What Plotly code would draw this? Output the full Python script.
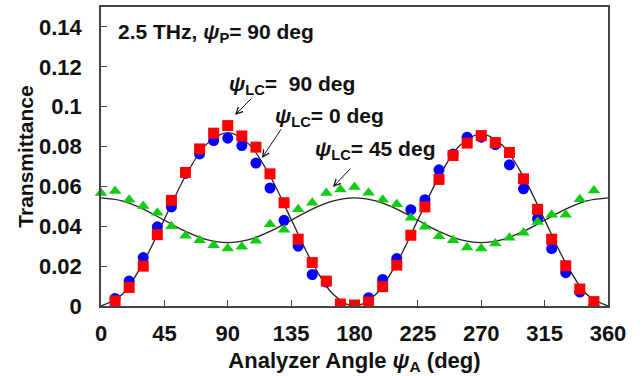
import plotly.graph_objects as go

# Analyzer angles (deg)
angles = [10, 20, 30, 40, 50, 60, 70, 80, 90, 100, 110, 120, 130, 140, 150, 160, 170, 180,
          190, 200, 210, 220, 230, 240, 250, 260, 270, 280, 290, 300, 310, 320, 330, 340, 350]

# psi_LC = 0 deg (blue circles)
t_lc0 = [0.0038, 0.0125, 0.0243, 0.0397, 0.0497, 0.0665, 0.0763, 0.0830, 0.0842, 0.0805,
         0.0717, 0.0592, 0.0430, 0.0300, 0.0158, 0.0120, 0.0000, 0.0000,
         0.0042, 0.0133, 0.0238, 0.0483, 0.0533, 0.0683, 0.0763, 0.0847, 0.0847, 0.0810,
         0.0708, 0.0588, 0.0438, 0.0288, 0.0167, 0.0070, 0.0000]

# psi_LC = 90 deg (red squares)
t_lc90 = [0.0025, 0.0093, 0.0200, 0.0358, 0.0530, 0.0670, 0.0788, 0.0867, 0.0905, 0.0853,
          0.0797, 0.0663, 0.0518, 0.0335, 0.0218, 0.0125, 0.0010, 0.0005,
          0.0020, 0.0097, 0.0205, 0.0355, 0.0497, 0.0635, 0.0755, 0.0817, 0.0855, 0.0820,
          0.0770, 0.0638, 0.0485, 0.0335, 0.0202, 0.0085, 0.0022]

# psi_LC = 45 deg (green triangles)
angles45 = [0] + angles
t_lc45 = [0.0567, 0.0577, 0.0533, 0.0502, 0.0468, 0.0400, 0.0352, 0.0330, 0.0305, 0.0288, 0.0297,
          0.0327, 0.0410, 0.0383, 0.0485, 0.0518, 0.0567, 0.0585, 0.0597,
          0.0568, 0.0533, 0.0510, 0.0443, 0.0397, 0.0350, 0.0330, 0.0293, 0.0288, 0.0313,
          0.0343, 0.0368, 0.0422, 0.0458, 0.0458, 0.0535, 0.0580]

# Fit curves (every 15 deg)
fit_angles = [0, 15, 30, 45, 60, 75, 90, 105, 120, 135, 150, 165, 180,
              195, 210, 225, 240, 255, 270, 285, 300, 315, 330, 345, 360]
fit_a = [0.0, 0.0058, 0.0218, 0.0435, 0.0652, 0.0812, 0.0870, 0.0812, 0.0652, 0.0435, 0.0218, 0.0058, 0.0,
         0.0058, 0.0216, 0.0432, 0.0648, 0.0806, 0.0864, 0.0806, 0.0648, 0.0432, 0.0216, 0.0058, 0.0]
fit_b = [0.0542, 0.0527, 0.0486, 0.0430, 0.0374, 0.0333, 0.0318, 0.0333, 0.0374, 0.0430, 0.0486, 0.0527, 0.0542,
         0.0527, 0.0486, 0.0430, 0.0374, 0.0333, 0.0318, 0.0333, 0.0374, 0.0430, 0.0486, 0.0527, 0.0542]

x_ticks = [0, 45, 90, 135, 180, 225, 270, 315, 360]
y_ticks = [0, 0.02, 0.04, 0.06, 0.08, 0.1, 0.12, 0.14]
y_tick_text = ["0", "0.02", "0.04", "0.06", "0.08", "0.1", "0.12", "0.14"]

FONT = "Arial, Liberation Sans, sans-serif"
FS = 21
TFS = 22

fig = go.Figure()
fig.add_trace(go.Scatter(x=fit_angles, y=fit_a, mode="lines", line=dict(color="#222222", width=1.3, shape="spline"),
                         showlegend=False, hoverinfo="skip"))
fig.add_trace(go.Scatter(x=fit_angles, y=fit_b, mode="lines", line=dict(color="#222222", width=1.3, shape="spline"),
                         showlegend=False, hoverinfo="skip"))
fig.add_trace(go.Scatter(x=angles, y=t_lc0, mode="markers",
                         marker=dict(symbol="circle", size=11, color="#0000FF"), showlegend=False))
fig.add_trace(go.Scatter(x=angles, y=t_lc90, mode="markers",
                         marker=dict(symbol="square", size=11, color="#FF0000"), showlegend=False))
fig.add_trace(go.Scatter(x=angles45, y=t_lc45, mode="markers",
                         marker=dict(symbol="triangle-up", size=11, color="#11CC11"), showlegend=False, cliponaxis=False))

ann_font = dict(family=FONT, size=FS, color="#111111")
texts = [
    ("<b>2.5 THz, <i>ψ</i><sub>P</sub>= 90 deg</b>", 10.6, 0.137),
    ("<b><i>ψ</i><sub>LC</sub>=  90 deg</b>", 89.5, 0.1109),
    ("<b><i>ψ</i><sub>LC</sub>= 0 deg</b>", 122.1, 0.0948),
    ("<b><i>ψ</i><sub>LC</sub>= 45 deg</b>", 150.5, 0.0783),
]
for t, x, y in texts:
    fig.add_annotation(text=t, x=x, y=y, xref="x", yref="y", xanchor="left", yanchor="middle",
                       showarrow=False, font=ann_font)

arrows = [(95.1, 0.0958, 18, -18), (114.3, 0.0743, 20, -30), (164.7, 0.0597, 19, -20)]
for x, y, ax, ay in arrows:
    fig.add_annotation(text="", x=x, y=y, xref="x", yref="y", ax=ax, ay=ay, showarrow=True,
                       arrowhead=5, arrowsize=1.3, arrowwidth=1, arrowcolor="#111111")

fig.update_xaxes(range=[0, 360], tickvals=x_ticks, ticks="inside", ticklen=6, tickwidth=1,
                 tickcolor="#444444", showline=True, linecolor="#444444", linewidth=1.5, mirror=True,
                 showgrid=False, zeroline=False, ticklabelstandoff=7, automargin=False,
                 tickfont=dict(family=FONT, size=TFS, color="#111111", weight="bold"),
                 title=dict(text="<b>Analyzer Angle <i>ψ</i><sub>A</sub> (deg)</b>", standoff=7,
                            font=dict(family=FONT, size=TFS, color="#111111")))
fig.update_yaxes(range=[0, 0.15], tickvals=y_ticks, ticktext=y_tick_text, ticks="inside", ticklen=6,
                 tickwidth=1, tickcolor="#444444", showline=True, linecolor="#444444", linewidth=1.5,
                 mirror=True, showgrid=False, zeroline=False, ticklabelstandoff=13, automargin=False,
                 tickfont=dict(family=FONT, size=TFS, color="#111111", weight="bold"),
                 title=dict(text="<b>Transmittance</b>", standoff=0,
                            font=dict(family=FONT, size=FS, color="#111111")))

fig.update_layout(width=644, height=376, margin=dict(l=101, r=36, t=7, b=70),
                  paper_bgcolor="white", plot_bgcolor="white")

fig.write_html("out.html", config={"displayModeBar": False},
               post_script="document.body.style.margin='0';document.body.style.padding='0';")
